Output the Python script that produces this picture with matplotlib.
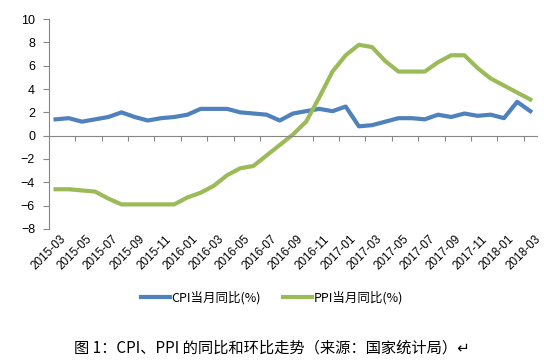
import matplotlib.pyplot as plt
import matplotlib.transforms as mtransforms
import numpy as np

plt.rcParams['font.family'] = ['Liberation Sans', 'Noto Sans CJK SC', 'DejaVu Sans']

# monthly data, 2015-03 .. 2018-03
months = ['2015-03', '2015-04', '2015-05', '2015-06', '2015-07', '2015-08', '2015-09',
          '2015-10', '2015-11', '2015-12', '2016-01', '2016-02', '2016-03', '2016-04',
          '2016-05', '2016-06', '2016-07', '2016-08', '2016-09', '2016-10', '2016-11',
          '2016-12', '2017-01', '2017-02', '2017-03', '2017-04', '2017-05', '2017-06',
          '2017-07', '2017-08', '2017-09', '2017-10', '2017-11', '2017-12', '2018-01',
          '2018-02', '2018-03']
cpi = [1.4, 1.5, 1.2, 1.4, 1.6, 2.0, 1.6, 1.3, 1.5, 1.6, 1.8, 2.3, 2.3, 2.3, 2.0, 1.9,
       1.8, 1.3, 1.9, 2.1, 2.3, 2.1, 2.5, 0.8, 0.9, 1.2, 1.5, 1.5, 1.4, 1.8, 1.6, 1.9,
       1.7, 1.8, 1.5, 2.9, 2.1]
ppi = [-4.6, -4.6, -4.7, -4.8, -5.4, -5.9, -5.9, -5.9, -5.9, -5.9, -5.3, -4.9, -4.3,
       -3.4, -2.8, -2.6, -1.7, -0.8, 0.1, 1.2, 3.3, 5.5, 6.9, 7.8, 7.6, 6.4, 5.5, 5.5,
       5.5, 6.3, 6.9, 6.9, 5.8, 4.9, 4.3, 3.7, 3.1]
labels = ['CPI当月同比(%)', 'PPI当月同比(%)']
caption = '图 1：CPI、PPI 的同比和环比走势（来源：国家统计局）↵'

x = np.arange(len(months))

fig = plt.figure(figsize=(5.44, 3.61), dpi=100)
ax = fig.add_axes([0.090, 0.366, 0.897, 0.581])

l1, = ax.plot(x, cpi, color='#4F81BD', lw=3, solid_joinstyle='round')
l2, = ax.plot(x, ppi, color='#9BBB59', lw=3, solid_joinstyle='round')

ax.set_xlim(-0.5, len(months) - 0.5)
ax.set_ylim(-8, 10)
ax.set_yticks(np.arange(-8, 11, 2))
ax.set_yticklabels([str(v).replace('-', '−') for v in range(-8, 11, 2)], fontsize=9)

for s in ['top', 'right']:
    ax.spines[s].set_visible(False)
ax.spines['left'].set_color('#868686')
ax.spines['bottom'].set_color('#868686')
ax.spines['bottom'].set_position(('data', 0))
ax.tick_params(axis='y', color='#868686', length=4, width=0.8, pad=6)
ax.set_xticks(np.arange(1.5, len(months) - 1, 2))
ax.tick_params(axis='x', color='#868686', length=3.5, width=0.8, labelbottom=False)

trans = mtransforms.blended_transform_factory(ax.transData, ax.transAxes)
for i in range(0, len(months), 2):
    ax.text(i + 0.3, -0.02, months[i], transform=trans, rotation=45, ha='right',
            va='top', rotation_mode='anchor', fontsize=8.5)

fig.legend([l1, l2], labels, loc='center', bbox_to_anchor=(0.5, 0.175), ncol=2,
           frameon=False, handlelength=2.3, handletextpad=0.1, columnspacing=1.8,
           prop={'family': ['Noto Sans CJK SC', 'DejaVu Sans'], 'size': 9})

fig.text(0.5, 0.036, caption, ha='center', va='center', fontsize=11,
         family=['Noto Sans CJK SC', 'DejaVu Sans'])

plt.savefig('out.png', dpi=100)
